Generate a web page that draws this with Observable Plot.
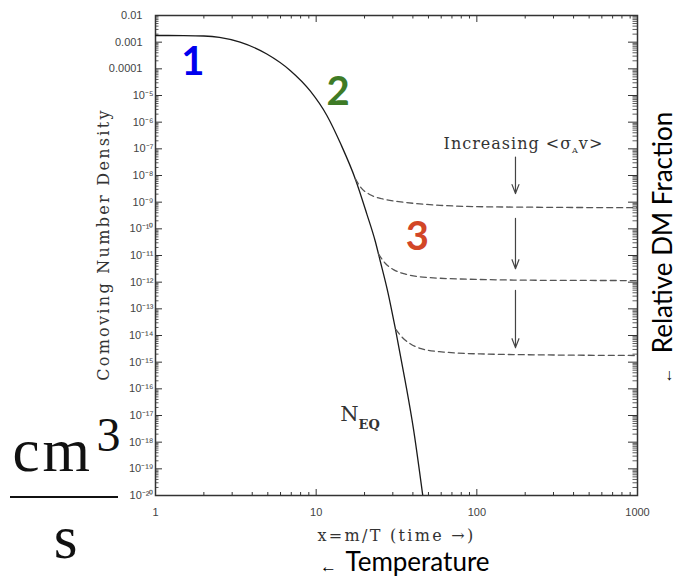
<!DOCTYPE html>
<html><head><meta charset="utf-8">
<script src="https://cdn.jsdelivr.net/npm/d3@7"></script>
<script src="https://cdn.jsdelivr.net/npm/@observablehq/plot@0.6"></script>
<style>
body{margin:0;background:#fff;}
#chart{position:relative;width:678px;height:577px;overflow:hidden;}
#frac{position:absolute;left:10px;top:496px;width:108px;height:2px;background:#111;}
</style>
</head><body><div id="chart"><div id="frac"></div></div>
<script>
// Equilibrium curve (solid)
const eqX = [1, 1.5, 2.0, 2.5, 3.36, 4.93, 6.89, 9.18, 11.66, 14.3, 17.5, 20.7, 23.3, 25.0, 28, 31.0, 35.8, 40.3, 45.6, 48];
const eqY = [1.78e-3, 1.76e-3, 1.70e-3, 1.51e-3, 1.0e-3, 3.6e-4, 8.7e-5, 1.48e-5, 1.78e-6, 1.41e-7, 7.6e-9, 3.5e-10, 3.5e-11, 6.5e-12, 4.0e-13, 2.0e-14, 2.0e-16, 3.2e-18, 1.6e-20, 1.6e-21];
// Freeze-out curves (dashed)
const fo1X = [17.5, 19, 21.7, 26, 35, 59, 100, 200, 1000];
const fo1Y = [7.6e-9, 3.5e-9, 1.9e-9, 1.32e-9, 1.0e-9, 7.6e-10, 6.8e-10, 6.5e-10, 6.2e-10];
const fo2X = [24.4, 27, 30.3, 36, 49, 105, 300, 1000];
const fo2Y = [1.15e-11, 5.0e-12, 2.95e-12, 2.0e-12, 1.51e-12, 1.26e-12, 1.17e-12, 1.15e-12];
const fo3X = [31.3, 35, 38.5, 45, 62, 105, 300, 1000];
const fo3Y = [1.7e-14, 7.6e-15, 4.9e-15, 3.2e-15, 2.4e-15, 2.04e-15, 1.86e-15, 1.78e-15];
// Arrows "Increasing <σv>"
const arrowX = [174, 174, 174];
const arrowYFrom = [4.9e-8, 2.45e-10, 4.9e-13];
const arrowYTo = [2.1e-9, 3.2e-12, 3.5e-15];
// Regime labels
const regimeLabels = ["1", "2", "3"];
const regimeX = [1.71, 13.7, 42.6];
const regimeY = [1.73e-4, 1.3e-5, 4.8e-11];
const regimeColors = ["#0000ee", "#3e7b26", "#d24627"];
// Ticks
const xTickValues = [1, 10, 100, 1000];
const xTickLabels = ["1", "10", "100", "1000"];
const yTickValues = [1e-2, 1e-3, 1e-4, 1e-5, 1e-6, 1e-7, 1e-8, 1e-9, 1e-10, 1e-11, 1e-12, 1e-13, 1e-14, 1e-15, 1e-16, 1e-17, 1e-18, 1e-19, 1e-20];
const yTickLabels = ["0.01", "0.001", "0.0001", "10⁻⁵", "10⁻⁶", "10⁻⁷", "10⁻⁸", "10⁻⁹", "10⁻¹⁰", "10⁻¹¹", "10⁻¹²", "10⁻¹³", "10⁻¹⁴", "10⁻¹⁵", "10⁻¹⁶", "10⁻¹⁷", "10⁻¹⁸", "10⁻¹⁹", "10⁻²⁰"];

const eq = eqX.map((x, i) => ({x, y: eqY[i]}));
const fo = [[fo1X, fo1Y], [fo2X, fo2Y], [fo3X, fo3Y]].flatMap(([xs, ys], k) => xs.map((x, i) => ({k, x, y: ys[i]})));
const arrows = arrowX.map((x, i) => ({x, y1: arrowYFrom[i], y2: arrowYTo[i]}));
const regimes = regimeLabels.map((t, i) => ({t, x: regimeX[i], y: regimeY[i], c: regimeColors[i]}));
const mult = [2, 3, 4, 5, 6, 7, 8, 9];
const xMinor = xTickValues.slice(0, -1).flatMap(d => mult.map(m => d * m));
const yMinor = yTickValues.slice(1).flatMap(d => mult.map(m => d * m));
const yDec = yTickValues.slice(0, 3), yExp = yTickValues.slice(3);
const yLab = v => yTickLabels[yTickValues.indexOf(v)];
const xLab = v => xTickLabels[xTickValues.indexOf(v)];

const W = 678, H = 577, mL = 155, mR = 41, mT = 15, mB = 82;
const fw = W - mL - mR, fh = H - mT - mB;
const ink = "#333";
const serif = "'DejaVu Serif', serif";
const sans = "'Liberation Sans', Arial, sans-serif";
const cal = "Lato, 'Open Sans', sans-serif";
const mid = {textAnchor: "middle", lineAnchor: "middle"};

const plot = Plot.plot({
  width: W, height: H, marginLeft: mL, marginRight: mR, marginTop: mT, marginBottom: mB,
  x: {type: "log", domain: [1, 1000], label: null},
  y: {type: "log", domain: [1e-20, 1e-2], label: null},
  style: {background: "transparent"},
  marks: [
    // inward ticks
    Plot.tickX(xMinor, {x: d => d, insetTop: fh - 3, stroke: ink}),
    Plot.tickX(xTickValues, {x: d => d, insetTop: fh - 6, stroke: ink}),
    Plot.tickX(xMinor, {x: d => d, insetBottom: fh - 3.5, stroke: ink}),
    Plot.tickX(xTickValues, {x: d => d, insetBottom: fh - 7, stroke: ink}),
    Plot.tickY(yMinor, {y: d => d, insetRight: fw - 3.5, stroke: ink, strokeWidth: 0.8}),
    Plot.tickY(yTickValues, {y: d => d, insetRight: fw - 7, stroke: ink}),
    Plot.tickY(yMinor, {y: d => d, insetLeft: fw - 4.5, stroke: ink, strokeWidth: 0.8}),
    Plot.tickY(yTickValues, {y: d => d, insetLeft: fw - 9, stroke: ink}),
    Plot.frame({stroke: ink, strokeWidth: 1.5}),
    // tick labels
    Plot.axisX(xTickValues, {label: null, tickSize: 0, tickPadding: 13, tickFormat: xLab, fontSize: 11, fontFamily: sans, fill: "#444"}),
    Plot.axisY(yDec, {label: null, tickSize: 0, tickPadding: 13, tickFormat: yLab, fontSize: 11, fontFamily: sans, fill: "#444"}),
    Plot.axisY(yExp, {label: null, tickSize: 0, tickPadding: 2, tickFormat: yLab, fontSize: 11, fontFamily: sans, fill: "#444"}),
    // curves
    Plot.line(eq, {x: "x", y: "y", curve: "monotone-x", stroke: "#1a1a1a", strokeWidth: 1.3, clip: true}),
    Plot.line(fo, {x: "x", y: "y", z: "k", curve: "monotone-x", stroke: "#555", strokeWidth: 1.3, strokeDasharray: "6,4", clip: true}),
    Plot.arrow(arrows, {x1: "x", y1: "y1", x2: "x", y2: "y2", stroke: "#444", strokeWidth: 1.2, headLength: 12, headAngle: 42}),
    // annotations
    Plot.text(regimes, {x: "x", y: "y", text: "t", fill: "c", fontSize: 40, fontWeight: "bold", fontFamily: cal}),
    Plot.text(["Increasing <σAv>"], {x: 195, y: 1.58e-7, fontSize: 16, fontFamily: serif, fill: "#333"}),
    Plot.text(["NEQ"], {x: 14.1, y: 1.1e-17, textAnchor: "start", fontSize: 21, fontFamily: serif, fill: "#333"}),
    // axis titles
    Plot.text(["Comoving Number Density"], {...mid, frameAnchor: "left", rotate: -90, dx: -52, dy: -11, fontSize: 16, fontFamily: serif, fill: "#333"}),
    Plot.text(["x=m/T (time →)"], {...mid, frameAnchor: "bottom", dy: 40, fontSize: 16, fontFamily: serif, fill: "#333"}),
    Plot.text(["Temperature"], {...mid, frameAnchor: "bottom", textAnchor: "start", dx: -51, dy: 67, fontSize: 26, fontFamily: cal, fill: "#000"}),
    Plot.text(["←"], {...mid, frameAnchor: "bottom", dx: -68, dy: 71, fontSize: 17, fontFamily: sans, fill: "#000"}),
    Plot.text(["Relative DM Fraction"], {...mid, frameAnchor: "right", rotate: -90, dx: 26, dy: -23, fontSize: 26, fontFamily: cal, fill: "#000"}),
    Plot.text(["←"], {...mid, frameAnchor: "right", rotate: -90, dx: 29, dy: 120, fontSize: 16, fontFamily: sans, fill: "#000"}),
    // units
    Plot.text(["cm"], {...mid, frameAnchor: "bottom-left", textAnchor: "start", dx: -143, dy: -44, fontSize: 61, fontFamily: "'Liberation Serif', serif", fill: "#111"}),
    Plot.text(["3"], {...mid, frameAnchor: "bottom-left", textAnchor: "start", dx: -59, dy: -60, fontSize: 48, fontFamily: "'Liberation Serif', serif", fill: "#111"}),
    Plot.text(["s"], {...mid, frameAnchor: "bottom-left", dx: -90, dy: 43, fontSize: 61, fontFamily: "'Liberation Serif', serif", fill: "#111"})
  ]
});

// rich text fixes (subscripts, spacing)
const ns = "http://www.w3.org/2000/svg";
plot.querySelectorAll("text").forEach(t => {
  const s = t.textContent;
  if (s === "Increasing <σAv>") {
    t.textContent = "";
    const a = document.createElementNS(ns, "tspan"); a.textContent = "Increasing <σ";
    const b = document.createElementNS(ns, "tspan"); b.textContent = "A"; b.setAttribute("font-size", "8"); b.setAttribute("dy", "4");
    const c = document.createElementNS(ns, "tspan"); c.textContent = "v>"; c.setAttribute("dy", "-4");
    t.append(a, b, c);
    t.style.letterSpacing = "1px";
  } else if (s === "NEQ") {
    t.textContent = "";
    const a = document.createElementNS(ns, "tspan"); a.textContent = "N";
    const b = document.createElementNS(ns, "tspan"); b.textContent = "EQ"; b.setAttribute("font-size", "13"); b.setAttribute("dy", "8"); b.setAttribute("font-weight", "bold");
    t.append(a, b);
  } else if (s === "Comoving Number Density") {
    t.style.letterSpacing = "2.3px";
  } else if (s === "x=m/T (time →)") {
    t.style.letterSpacing = "2.3px";
  } else if (s === "cm") {
    t.style.letterSpacing = "3px";
  }
});
document.getElementById("chart").prepend(plot);
</script>
</body></html>
